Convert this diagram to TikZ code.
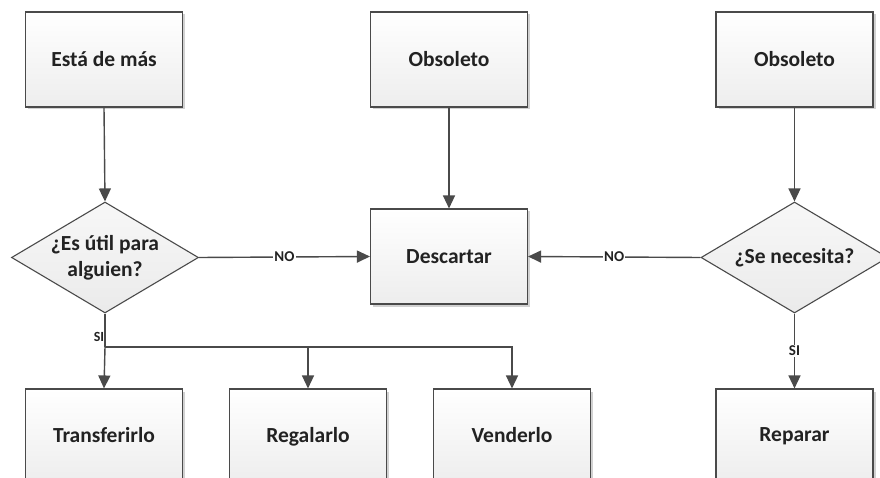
\documentclass[tikz,border=0pt]{standalone}
\usepackage{fontspec}
\setmainfont{Carlito}
\usetikzlibrary{shapes.geometric,arrows.meta,shadows,positioning}

\definecolor{edgegray}{HTML}{4A4A4A}
\definecolor{textgray}{HTML}{222222}

\tikzset{
  procbox/.style={draw=edgegray, line width=1.1pt, rectangle,
    minimum width=157pt, minimum height=95pt, inner sep=0pt,
    top color=white, bottom color=black!7,
    drop shadow={shadow xshift=2.5pt, shadow yshift=-2.5pt, opacity=0.18, fill=black},
    font=\fontsize{21.5}{26}\selectfont\bfseries, text=textgray, align=center},
  decbox/.style={draw=edgegray, line width=1.1pt, diamond, aspect=1.68,
    minimum width=187pt, minimum height=111pt, inner sep=0pt,
    top color=black!3, bottom color=black!8,
    font=\fontsize{21.5}{26}\selectfont\bfseries, text=textgray, align=center},
  link/.style={draw=edgegray, line width=1.4pt,
    -{Triangle[length=13pt,width=12pt]}},
  plain/.style={draw=edgegray, line width=1.4pt},
  tag/.style={fill=white, inner sep=1pt, text=textgray,
    font=\fontsize{15}{16}\selectfont\bfseries}
}

\begin{document}
\begin{tikzpicture}[x=1pt,y=-1pt]
\useasboundingbox (0,0) rectangle (880,478);
\clip (0,0) rectangle (880,478);

% top row
\node[procbox] (mas)  at (104,59.5) {Está de más};
\node[procbox] (obs1) at (449,59.5) {Obsoleto};
\node[procbox] (obs2) at (794.5,59.5) {Obsoleto};

% middle row
\node[decbox] (util) at (105,257.5) {¿Es útil para\\alguien?};
\node[procbox] (desc) at (449,256.5) {Descartar};
\node[decbox] (nec)  at (794.5,257.5) {¿Se necesita?};

% bottom row (cut by the lower edge)
\node[procbox] (trans) at (104,436.5) {\raisebox{4pt}{Transferirlo}};
\node[procbox] (reg)   at (308,436.5) {\raisebox{4pt}{Regalarlo}};
\node[procbox] (vend)  at (512,436.5) {\raisebox{4pt}{Venderlo}};
\node[procbox] (rep)   at (794.5,436.5) {\raisebox{4pt}{Reparar}};

% vertical feeds
\draw[link] (mas.south) -- (util.north);
\draw[link] (obs1.south) -- (desc.north);
\draw[link] (obs2.south) -- (nec.north);

% NO branches into Descartar
\draw[link] (util.east) -- node[tag] {NO} (desc.west);
\draw[link] (nec.west) -- node[tag] {NO} (desc.east);

% SI branch of the right decision
\draw[link] (nec.south) -- node[tag] {SI} (rep.north);

% SI branch of the left decision, split three ways
\coordinate (split) at (105,347);
\draw[plain] (util.south) -- (split);
\node[font=\fontsize{14}{15}\selectfont\bfseries, text=textgray, inner sep=0pt]
  (si) at (99,337) {SI};
\draw[link] (split) -- (trans.north);
\draw[link] (split) -| (reg.north);
\draw[link] (split) -| (vend.north);
\end{tikzpicture}
\end{document}
